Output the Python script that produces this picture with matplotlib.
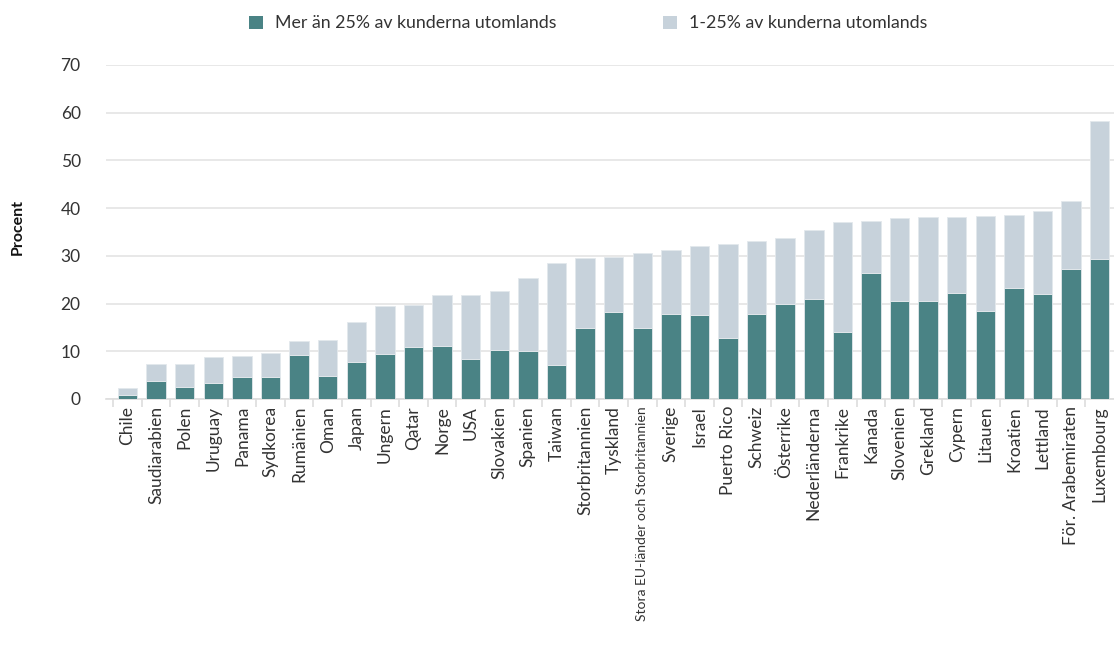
import matplotlib
matplotlib.use("Agg")
import matplotlib.pyplot as plt
import numpy as np
from matplotlib.patches import Patch

plt.rcParams['font.family'] = ['Lato', 'DejaVu Sans']

countries = ["Chile", "Saudiarabien", "Polen", "Uruguay", "Panama", "Sydkorea", "Rumänien",
             "Oman", "Japan", "Ungern", "Qatar", "Norge", "USA", "Slovakien", "Spanien",
             "Taiwan", "Storbritannien", "Tyskland", "Stora EU-länder och Storbritannien",
             "Sverige", "Israel", "Puerto Rico", "Schweiz", "Österrike", "Nederländerna",
             "Frankrike", "Kanada", "Slovenien", "Grekland", "Cypern", "Litauen", "Kroatien",
             "Lettland", "För. Arabemiraten", "Luxembourg"]

# share of firms with more than 25% of customers abroad
over25 = [0.8, 3.8, 2.5, 3.4, 4.5, 4.7, 9.3, 4.8, 7.8, 9.4, 10.8, 11.1, 8.4, 10.3, 10.0,
          7.2, 14.8, 18.3, 14.9, 17.8, 17.6, 12.7, 17.9, 20.0, 21.0, 14.1, 26.3, 20.5,
          20.5, 22.2, 18.5, 23.3, 22.1, 27.3, 29.3]
# total (both groups) bar height
total = [2.2, 7.3, 7.4, 8.7, 9.1, 9.7, 12.1, 12.4, 16.1, 19.4, 19.7, 21.7, 21.7, 22.6, 25.3,
         28.5, 29.5, 29.8, 30.6, 31.3, 32.0, 32.4, 33.1, 33.7, 35.5, 37.1, 37.3, 38.0,
         38.1, 38.1, 38.3, 38.6, 39.4, 41.5, 58.2]
share1_25 = [t - o for t, o in zip(total, over25)]

legend_labels = ["Mer än 25% av kunderna utomlands", "1-25% av kunderna utomlands"]
y_ticks = [0, 10, 20, 30, 40, 50, 60, 70]

dark = "#4a8385"
light = "#c7d2db"
text_col = "#333333"
fs = 12.5

fig = plt.figure(figsize=(11.14, 6.46), dpi=100)
ax = fig.add_axes([0.0949, 0.3824, 0.9051, 0.517])

x = np.arange(len(countries))
ax.bar(x, over25, width=0.68, color=dark, edgecolor="#e3e8ec", linewidth=0.6, zorder=3)
ax.bar(x, share1_25, bottom=over25, width=0.68, color=light, edgecolor="#e3e8ec",
       linewidth=0.6, zorder=3)

ax.set_ylim(0, 70)
ax.set_xlim(-0.765, len(countries) - 0.5)
ax.set_yticks(y_ticks)
ax.yaxis.grid(True, color="#e4e4e4", linewidth=1.2, zorder=0)
ax.set_axisbelow(True)
for s in ["top", "right", "left"]:
    ax.spines[s].set_visible(False)
ax.spines["bottom"].set_color("#dddddd")
ax.spines["bottom"].set_linewidth(1.2)
ax.tick_params(axis="y", length=0, pad=18, labelsize=fs, labelcolor=text_col)
for lab in ax.get_yticklabels():
    lab.set_horizontalalignment("right")

ax.set_xticks(x)
ax.set_xticklabels(countries, rotation=90, fontsize=fs, color=text_col)
ax.tick_params(axis="x", which="major", length=0, pad=5)
ax.set_xticks(np.arange(-0.5, len(countries) - 0.5, 1), minor=True)
ax.tick_params(axis="x", which="minor", length=6, color="#dddddd", width=1.2)
for lab in ax.get_xticklabels():
    if lab.get_text().startswith("Stora"):
        lab.set_fontsize(10)

fig.text(0.0157, 0.649, "Procent", rotation=90, fontsize=11.5, fontweight="bold",
         color="#111111", ha="center", va="center")

handles = [Patch(facecolor=dark, edgecolor="none"), Patch(facecolor=light, edgecolor="none")]
fig.legend(handles, legend_labels, loc="center", bbox_to_anchor=(0.528, 0.964), ncol=2,
           frameon=False, fontsize=12.8, handlelength=0.78, handleheight=0.75,
           columnspacing=6.0, handletextpad=0.67, labelcolor=text_col)

fig.savefig("out.png", dpi=100)
